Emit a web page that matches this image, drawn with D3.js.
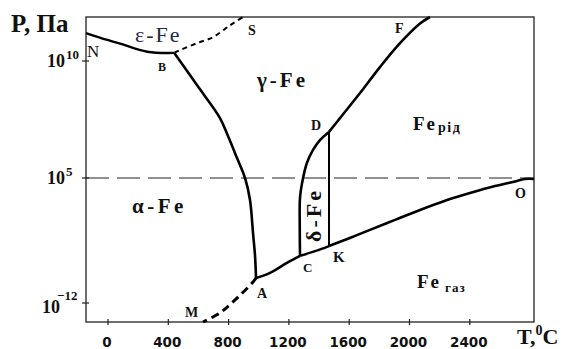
<!DOCTYPE html>
<html>
<head>
<meta charset="utf-8">
<script src="https://cdn.jsdelivr.net/npm/d3@7/dist/d3.min.js"></script>
<style>
  html, body { margin: 0; padding: 0; background: #fff; }
  svg { display: block; }
</style>
</head>
<body>
<div id="chart"></div>
<script>
// Phase diagram of iron: temperature (°C) vs log10 of pressure (Pa)
const tempTicks = [0, 400, 800, 1200, 1600, 2000, 2400];
const pressureExponents = [-12, 5, 10];
const atmosphereExp = 5;

// Phase boundaries as [temperature °C, log10 P]
const curveNB = [[-146, 11.2], [-50, 11.0], [80, 10.75], [260, 10.4], [440, 10.35]];
const curveBS = [[440, 10.35], [478, 10.47], [590, 10.77], [697, 11.03], [809, 11.54], [896, 11.9]];
const curveBA = [[440, 10.35], [590, 8.97], [743, 7.56], [796, 6.79], [856, 5.85], [909, 5.0], [942, 2.0], [962, -2.5], [975, -5.5], [982, -8.6]];
const curveAM = [[982, -8.6], [962, -9.15], [829, -11.85], [743, -13.35], [630, -14.6]];
const curveAC = [[982, -8.6], [1075, -7.9], [1187, -6.55], [1274, -5.6]];
const curveCK = [[1274, -5.6], [1373, -4.95], [1466, -4.25]];
const curveKO = [[1466, -4.25], [1605, -3.15], [1738, -2.05], [1904, -0.7], [2070, 0.65], [2236, 1.9], [2401, 2.95], [2567, 3.9], [2713, 4.6], [2766, 4.87], [2826, 4.87]];
const curveCD = [[1274, -5.6], [1272, -1.5], [1274, 2.4], [1294, 5.0], [1320, 5.65], [1360, 6.2], [1406, 6.62], [1466, 6.97]];
const curveDF = [[1466, 6.97], [1539, 7.56], [1672, 8.63], [1804, 9.74], [1937, 10.77], [2070, 11.62], [2136, 11.9]];
const lineKD = [[1466, -4.25], [1466, 6.97]];

const W = 577, H = 349;
const svg = d3.select("#chart").append("svg")
  .attr("width", W).attr("height", H)
  .style("background", "#fff");

const x = d3.scaleLinear().domain([-146, 2826]).range([86, 534]);
// pressure axis is not uniform in decades: lower part compressed
const y = d3.scaleLinear().domain([-14.6, -12, 5, 10, 11.9]).range([322, 303, 178, 61, 17]);

const serif = "'Liberation Serif', 'Times New Roman', serif";
const ink = "#111";

// frame
svg.append("rect")
  .attr("x", x.range()[0]).attr("y", y(11.9))
  .attr("width", x.range()[1] - x.range()[0])
  .attr("height", y(-14.6) - y(11.9))
  .attr("fill", "none").attr("stroke", "#222").attr("stroke-width", 1.3);

// x ticks
svg.append("g").selectAll("line").data(tempTicks).join("line")
  .attr("x1", d => x(d)).attr("x2", d => x(d))
  .attr("y1", y(-14.6) - 3).attr("y2", y(-14.6) + 3)
  .attr("stroke", "#222").attr("stroke-width", 1.2);
svg.append("g").selectAll("text").data(tempTicks).join("text")
  .attr("x", d => x(d) - 1).attr("y", 347)
  .attr("text-anchor", "middle")
  .attr("font-family", "'DejaVu Sans', sans-serif")
  .attr("font-weight", "bold").attr("font-size", 13.5)
  .attr("fill", ink)
  .text(d => d);

// y ticks
svg.append("g").selectAll("line").data(pressureExponents).join("line")
  .attr("x1", x.range()[0] - 4).attr("x2", x.range()[0] + 3)
  .attr("y1", d => y(d)).attr("y2", d => y(d))
  .attr("stroke", "#222").attr("stroke-width", 1.2);
const yl = svg.append("g").selectAll("text").data(pressureExponents).join("text")
  .attr("x", d => d < 0 ? 42 : 47)
  .attr("y", d => y(d) + (d < 0 ? 10 : 6))
  .attr("font-family", serif).attr("font-weight", "bold")
  .attr("font-size", 18).attr("fill", ink);
yl.append("tspan").text("10");
yl.append("tspan")
  .attr("dx", d => d < 0 ? -3 : 1)
  .attr("dy", d => d < 0 ? -13 : -8)
  .attr("font-size", 13)
  .text(d => d < 0 ? "\u2212" + Math.abs(d) : d);

// atmospheric pressure line
svg.append("line")
  .attr("x1", x.range()[0]).attr("x2", x.range()[1])
  .attr("y1", y(atmosphereExp)).attr("y2", y(atmosphereExp))
  .attr("stroke", "#222").attr("stroke-width", 1.2)
  .attr("stroke-dasharray", "23,8");

const line = d3.line().x(d => x(d[0])).y(d => y(d[1])).curve(d3.curveCatmullRom.alpha(0.5));
const draw = (data, w, dash) => svg.append("path")
  .attr("d", line(data))
  .attr("fill", "none").attr("stroke", "#000")
  .attr("stroke-width", w)
  .attr("stroke-linejoin", "round")
  .attr("stroke-dasharray", dash || null);

draw(curveNB, 2.4);
draw(curveBS, 2, "5,4");
draw(curveBA, 2.6);
draw(curveAM, 3, "8,5");
draw(curveAC, 2.6);
draw(curveCK, 2.4);
draw(curveKO, 2.6);
draw(curveCD, 2.6);
draw(curveDF, 2.6);
draw(lineKD, 2);

// axis titles
svg.append("text").attr("x", 11).attr("y", 32)
  .attr("font-family", serif).attr("font-weight", "bold")
  .attr("font-size", 25).attr("fill", ink).text("P, Па");
const tt = svg.append("text").attr("x", 517).attr("y", 344)
  .attr("font-family", serif).attr("font-weight", "bold")
  .attr("font-size", 22).attr("fill", ink);
tt.append("tspan").text("T,");
tt.append("tspan").attr("dy", -9).attr("font-size", 14).text("0");
tt.append("tspan").attr("dy", 9).text("C");

// phase region names
const region = (tx, ty, txt, size, weight, spacing, fill) =>
  svg.append("text").attr("x", tx).attr("y", ty)
    .attr("font-family", serif).attr("font-weight", weight)
    .attr("font-size", size).attr("letter-spacing", spacing)
    .attr("fill", fill || ink).text(txt);

region(135, 42, "ε-Fe", 22, "normal", 2, "#1f2a44");
region(257, 87, "γ-Fe", 21, "bold", 3);
region(132, 213, "α-Fe", 21, "bold", 3.5);
svg.append("text")
  .attr("transform", "translate(321,215) rotate(-90)")
  .attr("text-anchor", "middle")
  .attr("font-family", serif).attr("font-weight", "bold")
  .attr("font-size", 22).attr("letter-spacing", 3)
  .attr("fill", ink).text("δ-Fe");

const liq = region(413, 130, "Fe", 19, "bold", 2);
liq.append("tspan").attr("dx", 1).attr("dy", 2).attr("font-size", 14).attr("letter-spacing", 1.5).text("рід");
const gas = region(417, 288, "Fe", 19, "bold", 2);
gas.append("tspan").attr("dx", 4).attr("dy", 4).attr("font-size", 13).attr("letter-spacing", 1).text("газ");

// point letters
const pointLabels = [
  ["N", 87, 57, 17, "normal"],
  ["B", 158, 71, 12, "bold"],
  ["S", 248, 35, 14, "bold"],
  ["F", 395, 33, 14, "bold"],
  ["D", 311, 130, 14, "bold"],
  ["K", 333, 262, 15, "bold"],
  ["C", 303, 272, 13, "bold"],
  ["A", 257, 298, 14, "bold"],
  ["M", 185, 317, 14, "bold"],
  ["O", 515, 198, 14, "bold"]
];
svg.append("g").selectAll("text").data(pointLabels).join("text")
  .attr("x", d => d[1]).attr("y", d => d[2])
  .attr("font-family", serif)
  .attr("font-size", d => d[3]).attr("font-weight", d => d[4])
  .attr("fill", ink).text(d => d[0]);
</script>
</body>
</html>
